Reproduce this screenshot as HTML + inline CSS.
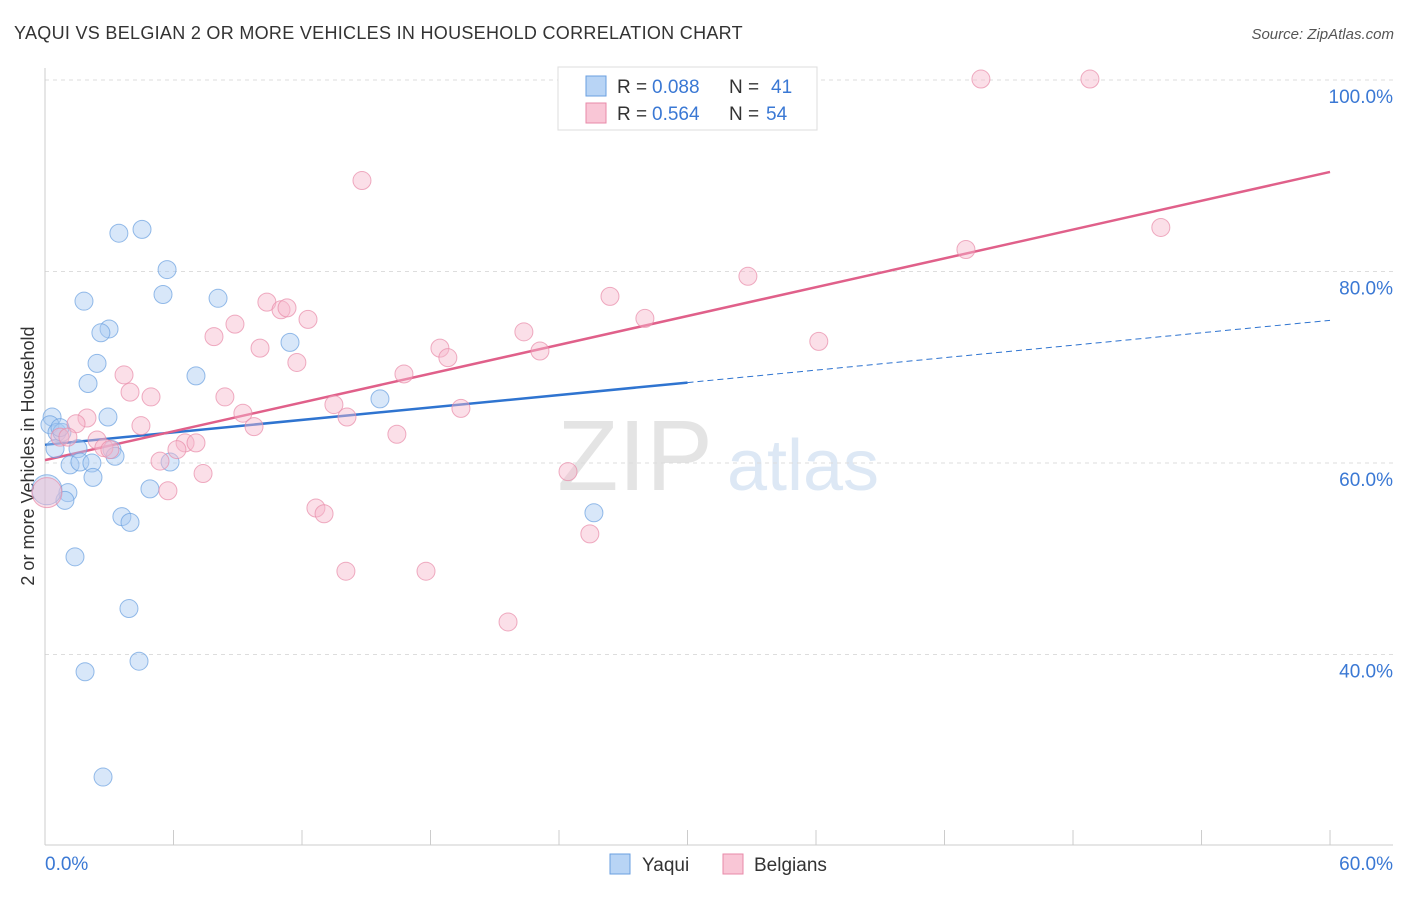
<!DOCTYPE html>
<html><head><meta charset="utf-8"><style>
body{margin:0;background:#fff;font-family:"Liberation Sans",sans-serif}
svg text{font-family:"Liberation Sans",sans-serif}
</style></head><body>
<svg id="c" width="1406" height="892" xmlns="http://www.w3.org/2000/svg">
<text x="14" y="39" font-size="18" fill="#333" letter-spacing="0.3">YAQUI VS BELGIAN 2 OR MORE VEHICLES IN HOUSEHOLD CORRELATION CHART</text>
<text x="1394" y="39" font-size="15" fill="#555" font-style="italic" text-anchor="end">Source: ZipAtlas.com</text>
<text transform="translate(34,456) rotate(-90)" font-size="18" fill="#333" text-anchor="middle">2 or more Vehicles in Household</text>
<g><text x="635" y="490" font-size="100" fill="#e4e4e4" text-anchor="middle" font-family="Liberation Serif">ZIP</text><text x="803" y="490" font-size="72" fill="#dde8f5" text-anchor="middle">atlas</text></g>
<g id="grid"></g><g id="axes"></g><g id="lines"></g><g id="pts"></g>
<g>
<rect x="558" y="67" width="259" height="63" fill="#fff" stroke="#ddd"/>
<rect x="586" y="76" width="20" height="20" fill="#b8d4f5" stroke="#6a9fe0"/>
<rect x="586" y="103" width="20" height="20" fill="#f9c6d6" stroke="#e88aa8"/>
<text x="617" y="93" font-size="19" fill="#333">R =</text><text x="652" y="93" font-size="19" fill="#3a78d4">0.088</text>
<text x="729" y="93" font-size="19" fill="#333">N =</text><text x="771" y="93" font-size="19" fill="#3a78d4">41</text>
<text x="617" y="120" font-size="19" fill="#333">R =</text><text x="652" y="120" font-size="19" fill="#3a78d4">0.564</text>
<text x="729" y="120" font-size="19" fill="#333">N =</text><text x="766" y="120" font-size="19" fill="#3a78d4">54</text>
</g>
<g>
<rect x="610" y="854" width="20" height="20" fill="#b8d4f5" stroke="#6a9fe0"/>
<text x="642" y="871" font-size="19" fill="#333">Yaqui</text>
<rect x="723" y="854" width="20" height="20" fill="#f9c6d6" stroke="#e88aa8"/>
<text x="754" y="871" font-size="19" fill="#333">Belgians</text>
</g>
</svg>
<script>
const yTicks=[40,60,80,100];
const xTickLabels=["0.0%","60.0%"];
const blueX=[3.45,4.53,5.70,5.51,1.82,8.08,2.99,2.61,2.43,7.05,2.01,11.44,15.64,2.94,0.33,0.23,0.56,0.79,0.47,1.54,1.17,1.63,2.19,2.24,3.13,3.27,4.90,1.07,0.93,3.59,3.97,5.84,1.40,25.63,3.92,4.39,1.87,2.71,0.09,0.70];
const blueY=[84.0,84.4,80.2,77.6,76.9,77.2,74.0,73.6,70.4,69.1,68.3,72.6,66.7,64.8,64.8,64.0,63.2,63.2,61.5,61.5,59.8,60.1,60.0,58.5,61.4,60.7,57.3,56.9,56.1,54.4,53.8,60.1,50.2,54.8,44.8,39.3,38.2,27.2,57.2,63.7];
const pinkX=[43.7,48.79,14.80,52.10,43.0,32.82,26.38,10.36,11.02,11.30,12.28,8.87,7.89,22.36,36.13,28.01,10.04,18.44,18.81,23.11,11.76,16.76,3.69,3.97,4.95,8.40,9.24,13.49,14.10,19.42,1.96,1.45,4.48,9.76,0.70,2.43,16.43,2.75,6.54,7.05,6.16,5.37,7.38,5.74,24.42,12.65,13.03,25.44,14.05,17.79,21.62,0.09,1.07,3.03];
const pinkY=[100.1,100.1,89.5,84.6,82.3,79.5,77.4,76.8,76.0,76.2,75.0,74.5,73.2,73.7,72.7,75.1,72.0,72.0,71.0,71.7,70.5,69.3,69.2,67.4,66.9,66.9,65.2,66.1,64.8,65.7,64.7,64.1,63.9,63.8,62.7,62.4,63.0,61.6,62.1,62.1,61.4,60.2,58.9,57.1,59.1,55.3,54.7,52.6,48.7,48.7,43.4,56.9,62.7,61.4];
const blueTrend=[61.9,74.9];
const pinkTrend=[60.3,90.4];
const NS="http://www.w3.org/2000/svg";
const X=v=>45+v*21.417, Y=v=>80+(100-v)*9.575;
function mk(t,a,p){const e=document.createElementNS(NS,t);for(const k in a)e.setAttribute(k,a[k]);p.appendChild(e);return e;}
const g=document.getElementById('grid'),ax=document.getElementById('axes'),ln=document.getElementById('lines'),pt=document.getElementById('pts');
yTicks.forEach(v=>{
 const l=mk('line',{x1:45,x2:1393,y1:Y(v),y2:Y(v),stroke:'#ddd','stroke-dasharray':'4,4'},g);
 
 
 const t=mk('text',{x:1393,y:Y(v)+23,'font-size':19,fill:'#3a78d4','text-anchor':'end'},g);t.textContent=v.toFixed(1)+'%';
 
 
});
const axl=mk('line',{x1:45,x2:45,y1:68,y2:845,stroke:'#ccc'},ax);


const bx=mk('line',{x1:45,x2:1393,y1:845,y2:845,stroke:'#ccc'},ax);


for(let i=0;i<=10;i++){const t=mk('line',{x1:X(i*6),x2:X(i*6),y1:830,y2:845,stroke:'#ccc'},ax);
 
 }
[[0,'start',45],[60,'end',1393]].forEach((d,i)=>{const t=mk('text',{x:d[2],y:870,'font-size':19,fill:'#3a78d4','text-anchor':d[1]},ax);t.textContent=xTickLabels[i];
 
 });
function pts(xs,ys,fill,stroke,name){xs.forEach((x,i)=>{const r=(x<0.2)?15:9;const c=mk('circle',{cx:X(x),cy:Y(ys[i]),r:r,fill:fill,'fill-opacity':0.45,stroke:stroke,'stroke-opacity':0.7},pt);
 
 });}
pts(blueX,blueY,'#a9c9f2','#6a9fe0','yaqui-point');
pts(pinkX,pinkY,'#f7b8cc','#e88aa8','belgians-point');
const bt=v=>blueTrend[0]+(blueTrend[1]-blueTrend[0])*v/60, pk=v=>pinkTrend[0]+(pinkTrend[1]-pinkTrend[0])*v/60;
const b1=mk('line',{x1:X(0),y1:Y(bt(0)),x2:X(30),y2:Y(bt(30)),stroke:'#2f74d0','stroke-width':2.5},ln);


const b2=mk('line',{x1:X(30),y1:Y(bt(30)),x2:X(60),y2:Y(bt(60)),stroke:'#2f74d0','stroke-width':1,'stroke-dasharray':'6,4'},ln);


const p1=mk('line',{x1:X(0),y1:Y(pk(0)),x2:X(60),y2:Y(pk(60)),stroke:'#e0608a','stroke-width':2.5},ln);


</script>
</body></html>
